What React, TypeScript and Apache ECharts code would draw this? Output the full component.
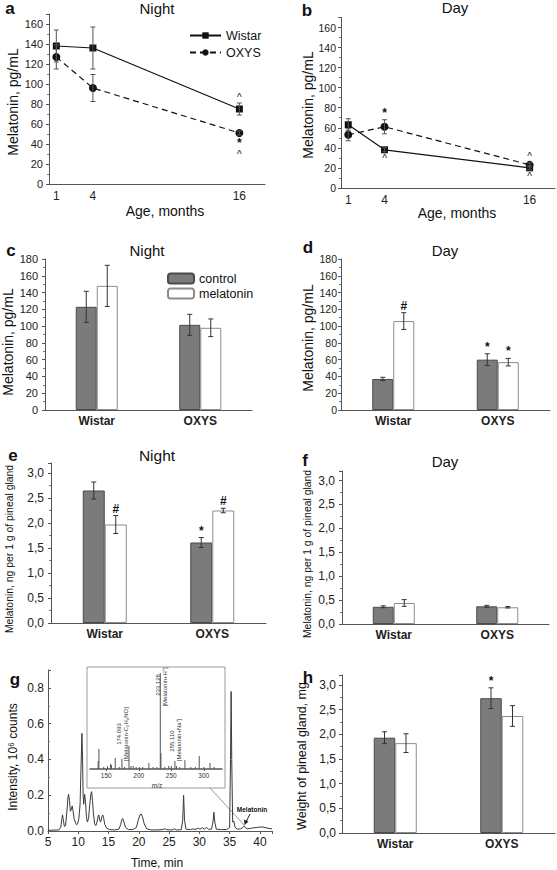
import React, { useEffect, useRef } from 'react';
import * as echarts from 'echarts';

const FONT = '"Liberation Sans", Arial, Helvetica, sans-serif';

// ---------- Panels a & b : melatonin vs age ----------
const ageMonths = [1, 4, 16];
const ageTickValues = [1, 4, 16];
const nightWistar = [138, 136, 75];
const nightWistarErr = [16, 21, 6];
const nightOxys = [127, 96, 51];
const nightOxysErr = [12, 13.5, 2];
const nightWistarAbove = ['', '', '^'];
const nightWistarBelow = ['', '', ''];
const nightOxysAbove = ['', '', ''];
const nightOxysBelow = ['', '', '*^'];

const dayWistar = [63, 38, 20];
const dayWistarErr = [6, 2, 2];
const dayOxys = [53, 61, 23];
const dayOxysErr = [6, 7, 2];
const dayWistarAbove = ['', '', ''];
const dayWistarBelow = ['', '^', '^'];
const dayOxysAbove = ['', '*', '^'];
const dayOxysBelow = ['', '', ''];

// ---------- Bar panels ----------
const strains = ['Wistar', 'OXYS'];
// c: night plasma melatonin, pg/mL
const cControl = [123, 101.5];
const cControlErr = [18.5, 12.5];
const cMelatonin = [148, 98];
const cMelatoninErr = [24.5, 10.5];
// d: day plasma melatonin, pg/mL
const dControl = [37, 60];
const dControlErr = [2, 7];
const dMelatonin = [106, 57];
const dMelatoninErr = [10, 4.5];
const dControlMarks = ['', '*'];
const dMelatoninMarks = ['#', '*'];
// e: night pineal melatonin, ng per 1 g
const eControl = [2.65, 1.61];
const eControlErr = [0.17, 0.1];
const eMelatonin = [1.97, 2.25];
const eMelatoninErr = [0.18, 0.045];
const eControlMarks = ['', '*'];
const eMelatoninMarks = ['#', '#'];
// f: day pineal melatonin, ng per 1 g
const fControl = [0.36, 0.37];
const fControlErr = [0.02, 0.02];
const fMelatonin = [0.44, 0.35];
const fMelatoninErr = [0.07, 0.015];
// h: weight of pineal gland, mg
const hControl = [1.93, 2.73];
const hControlErr = [0.12, 0.21];
const hMelatonin = [1.82, 2.37];
const hMelatoninErr = [0.19, 0.21];
const hControlMarks = ['', '*'];

// ---------- Panel g : chromatogram ----------
const chromTime = [
  5.0, 6.0, 6.8, 7.1, 7.3, 7.4, 7.5, 7.7, 7.9, 8.1, 8.3, 8.4, 8.55, 8.7, 8.85, 9.0, 9.15, 9.3, 9.5, 9.7,
  9.9, 10.1, 10.3, 10.45, 10.6, 10.7, 10.8, 10.9, 11.05, 11.2, 11.35, 11.5, 11.7, 11.9, 12.1, 12.2, 12.35, 12.5, 12.7, 12.9,
  13.1, 13.3, 13.4, 13.55, 13.7, 13.9, 14.05, 14.2, 14.4, 14.7, 15.2, 16.0, 16.7, 17.0, 17.2, 17.35, 17.5, 17.8, 18.3, 19.0,
  19.6, 19.9, 20.2, 20.4, 20.6, 20.9, 21.3, 22.0, 23.0, 24.0, 24.3, 24.6, 25.5, 25.9, 26.2, 27.0, 27.25, 27.4, 27.55, 27.8,
  28.5, 29.0, 29.3, 29.8, 30.1, 30.5, 30.8, 31.2, 31.5, 32.0, 32.25, 32.4, 32.55, 32.8, 33.5, 34.5, 35.0, 35.15, 35.25, 35.35,
  35.5, 35.7, 35.9, 36.3, 36.8, 37.2, 37.4, 37.6, 38.0, 38.5, 39.0, 39.5, 40.0, 40.5, 41.0, 41.5, 42.0,
];
const chromIntensity = [
  0.004, 0.005, 0.006, 0.02, 0.07, 0.09, 0.07, 0.025, 0.03, 0.1, 0.19, 0.205, 0.17, 0.11, 0.12, 0.14, 0.11, 0.07, 0.05, 0.035,
  0.04, 0.07, 0.15, 0.35, 0.546, 0.42, 0.2, 0.15, 0.205, 0.16, 0.08, 0.05, 0.07, 0.15, 0.21, 0.22, 0.17, 0.1, 0.04, 0.03,
  0.05, 0.085, 0.09, 0.06, 0.05, 0.08, 0.09, 0.07, 0.035, 0.015, 0.008, 0.006, 0.01, 0.035, 0.065, 0.07, 0.055, 0.02, 0.008, 0.008,
  0.02, 0.06, 0.09, 0.095, 0.08, 0.04, 0.012, 0.006, 0.006, 0.008, 0.013, 0.007, 0.006, 0.012, 0.006, 0.007, 0.06, 0.2, 0.06, 0.01,
  0.008, 0.012, 0.008, 0.016, 0.01, 0.018, 0.01, 0.02, 0.01, 0.01, 0.05, 0.105, 0.05, 0.01, 0.008, 0.008, 0.02, 0.4, 0.78, 0.4,
  0.05, 0.055, 0.02, 0.01, 0.012, 0.02, 0.027, 0.018, 0.012, 0.015, 0.018, 0.02, 0.022, 0.022, 0.018, 0.014, 0.012,
];
// inset: mass spectrum (relative intensity, %)
const msMz = [137.5, 138.7, 146, 152, 156.7, 158, 163.8, 170, 174.1, 178, 184.9, 188, 191.5, 196, 201, 206, 215.6, 222, 228, 233.1, 234.1, 240, 246, 250, 255.6, 258, 263, 271, 280, 287, 293, 300, 309.5, 316];
const msIntensity = [8, 20, 2, 3, 5, 4, 11, 2, 10, 2, 23, 3, 3, 2, 2, 2, 6, 2, 2, 96, 16, 2, 3, 3, 8, 3, 2, 9, 2, 2, 13, 2, 6, 2];
const msTickValues = [150, 200, 250, 300];

// ---------- helpers ----------
const AX = '#555';
const CTRL_STYLE = { color: '#7b7b7b', borderColor: '#4a4a4a', borderWidth: 1 };
const MEL_STYLE = { color: '#ffffff', borderColor: '#8c8c8c', borderWidth: 1 };

const grids = [
  { left: 49, top: 14, width: 216, height: 170 }, // a
  { left: 341, top: 17.5, width: 214, height: 170.4 }, // b
  { left: 45, top: 259, width: 207, height: 151 }, // c
  { left: 341, top: 259, width: 209, height: 151 }, // d
  { left: 51, top: 463, width: 215, height: 160 }, // e
  { left: 342, top: 471, width: 207, height: 153 }, // f
  { left: 48, top: 670, width: 224, height: 161 }, // g
  { left: 342, top: 675, width: 213, height: 158 }, // h
  { left: 90, top: 669, width: 132, height: 100 }, // inset
];

function yValueAxis(gi: number, max: number, interval: number, labelMax: number, fontSize: number, margin: number, comma: boolean, digits: number, inside = false) {
  return {
    type: 'value', gridIndex: gi, min: 0, max, interval,
    axisLine: { show: true, lineStyle: { color: AX, width: 1 } },
    axisTick: { show: true, inside, length: 3, lineStyle: { color: AX } },
    minorTick: { show: true, splitNumber: 2, length: 2, lineStyle: { color: '#777' } },
    splitLine: { show: false },
    axisLabel: {
      fontSize, color: '#222', fontFamily: FONT, margin,
      formatter: (v: number) => {
        if (v > labelMax + 1e-9) return '';
        const s = digits > 0 ? v.toFixed(digits) : String(Math.round(v));
        return comma ? s.replace('.', ',') : s;
      },
    },
  };
}

function catAxis(gi: number) {
  return {
    type: 'category', gridIndex: gi, data: strains,
    axisLine: { show: true, lineStyle: { color: AX, width: 1 } },
    axisTick: { show: false },
    splitLine: { show: false },
    axisLabel: { fontSize: 12, fontWeight: 'bold', color: '#222', fontFamily: FONT, margin: 5 },
  };
}

function ageAxis(gi: number) {
  return {
    type: 'value', gridIndex: gi, min: 0.4, max: 18.1,
    axisLine: { show: true, lineStyle: { color: AX, width: 1 } },
    axisTick: { show: false },
    splitLine: { show: false },
    axisLabel: { customValues: ageTickValues, fontSize: 12, color: '#222', fontFamily: FONT, margin: 6 },
  };
}

// one text element holding a stack of significance marks (* bold, ^ plain)
function markStack(marks: string, x: number, y: number, va: string) {
  const chars = marks.split('');
  const ordered = va === 'bottom' ? chars.slice().reverse() : chars;
  const text = ordered.map((ch) => (ch === '^' ? `{c|^}` : `{s|${ch}}`)).join('\n');
  return {
    type: 'text', x, y,
    style: {
      text, align: 'center', verticalAlign: va, fill: '#111',
      font: `bold 12px ${FONT}`,
      rich: {
        s: { font: `bold 12px ${FONT}`, lineHeight: 12, fill: '#111' },
        c: { font: `normal 10px ${FONT}`, lineHeight: 10, fill: '#111' },
      },
    },
  };
}

function pointErrSeries(gi: number, xs: number[], ys: number[], errs: number[], above: string[], below: string[]) {
  return {
    type: 'custom', xAxisIndex: gi, yAxisIndex: gi, z: 4, silent: true,
    data: xs.map((x, i) => [x, ys[i], errs[i]]),
    renderItem: (params: any, api: any) => {
      const x = api.value(0), v = api.value(1), e = api.value(2);
      const top = api.coord([x, v + e]);
      const bot = api.coord([x, v - e]);
      const px = top[0];
      const cap = 2.5;
      const st = { stroke: '#555', lineWidth: 1 };
      const children: any[] = [
        { type: 'line', shape: { x1: px, y1: top[1], x2: px, y2: bot[1] }, style: st },
        { type: 'line', shape: { x1: px - cap, y1: top[1], x2: px + cap, y2: top[1] }, style: st },
        { type: 'line', shape: { x1: px - cap, y1: bot[1], x2: px + cap, y2: bot[1] }, style: st },
      ];
      const up = above[params.dataIndex] || '';
      if (up) children.push(markStack(up, px, top[1] - 1, 'bottom'));
      const dn = below[params.dataIndex] || '';
      if (dn) children.push(markStack(dn, px, bot[1] + 2, 'top'));
      return { type: 'group', children };
    },
  };
}

function barErrSeries(gi: number, values: number[], errs: number[], marks: string[] | null, side: number, bw: number) {
  return {
    type: 'custom', xAxisIndex: gi, yAxisIndex: gi, z: 5, silent: true,
    data: values.map((v, i) => [i, v, errs[i]]),
    renderItem: (params: any, api: any) => {
      const i = api.value(0), v = api.value(1), e = api.value(2);
      const top = api.coord([i, v + e]);
      const bot = api.coord([i, v - e]);
      const px = top[0] + (side * bw) / 2;
      const cap = 2.5;
      const st = { stroke: '#333', lineWidth: 1 };
      const children: any[] = [
        { type: 'line', shape: { x1: px, y1: top[1], x2: px, y2: bot[1] }, style: st },
        { type: 'line', shape: { x1: px - cap, y1: top[1], x2: px + cap, y2: top[1] }, style: st },
        { type: 'line', shape: { x1: px - cap, y1: bot[1], x2: px + cap, y2: bot[1] }, style: st },
      ];
      const m = marks ? marks[params.dataIndex] : '';
      if (m) children.push(markStack(m, px, top[1] - 1, 'bottom'));
      return { type: 'group', children };
    },
  };
}

function barPair(gi: number, ctrl: number[], ctrlErr: number[], ctrlMarks: string[] | null, mel: number[], melErr: number[], melMarks: string[] | null, bw: number) {
  return [
    { type: 'bar', name: 'control', xAxisIndex: gi, yAxisIndex: gi, data: ctrl, barWidth: bw, barGap: '0%', itemStyle: CTRL_STYLE, silent: true },
    { type: 'bar', name: 'melatonin', xAxisIndex: gi, yAxisIndex: gi, data: mel, barWidth: bw, barGap: '0%', itemStyle: MEL_STYLE, silent: true },
    barErrSeries(gi, ctrl, ctrlErr, ctrlMarks, -1, bw),
    barErrSeries(gi, mel, melErr, melMarks, 1, bw),
  ];
}

function lineSeries(gi: number, name: string, ys: number[], symbol: string, dashed: boolean) {
  return {
    type: 'line', name, xAxisIndex: gi, yAxisIndex: gi, z: 3, silent: true,
    data: ageMonths.map((x, i) => [x, ys[i]]),
    symbol, symbolSize: symbol === 'rect' ? 7 : 8,
    lineStyle: { color: '#111', width: 1.2, type: dashed ? [6, 4] : 'solid' },
    itemStyle: { color: '#111' },
  };
}

function txt(text: string, x: number, y: number, size: number, opts: any = {}) {
  return {
    type: 'text', x, y, rotation: opts.rot ? Math.PI / 2 : 0, z: opts.z ?? 10,
    style: {
      text, align: 'center', verticalAlign: 'middle',
      font: `${opts.bold ? 'bold ' : ''}${size}px ${FONT}`, fill: opts.fill ?? '#111',
    },
  };
}

function buildOption() {
  const graphic: any[] = [
    // inset frame
    { type: 'rect', z: 1, shape: { x: 87, y: 667, width: 138, height: 121 }, style: { fill: '#fff', stroke: '#999', lineWidth: 1 } },
    { type: 'line', z: 1, shape: { x1: 210, y1: 788, x2: 245, y2: 826 }, style: { stroke: '#999', lineWidth: 1 } },
    { type: 'line', z: 10, shape: { x1: 250, y1: 814, x2: 246, y2: 822 }, style: { stroke: '#222', lineWidth: 1 } },
    { type: 'polygon', z: 10, shape: { points: [[244.5, 825], [244, 819.5], [248.5, 821.5]] }, style: { fill: '#222' } },
    txt('Melatonin', 252, 809, 6.5, { bold: true }),
    txt('m/z', 157, 785, 6.5, { fill: '#333' }),
    txt('233.128', 158, 685, 6, { rot: true, fill: '#333' }),
    txt('[Melatonin+H⁺]', 164.5, 687, 6, { rot: true, fill: '#333' }),
    txt('174.093', 118.5, 734, 6, { rot: true, fill: '#333' }),
    txt('[Melatonin-C₂H₄NO]', 125.5, 734, 6, { rot: true, fill: '#333' }),
    txt('255.110', 171.5, 741, 6, { rot: true, fill: '#333' }),
    txt('[Melatonin+Na⁺]', 178.5, 740, 6, { rot: true, fill: '#333' }),
    // panel letters & titles
    txt('a', 10, 8, 17, { bold: true }),
    txt('Night', 157, 8, 15),
    txt('b', 307, 10, 17, { bold: true }),
    txt('Day', 455, 7, 15),
    txt('Age, months', 165, 211, 14),
    txt('Age, months', 457, 213, 14),
    txt('c', 11, 250, 17, { bold: true }),
    txt('Night', 147, 250, 15),
    txt('d', 308, 247, 17, { bold: true }),
    txt('Day', 445, 250, 15),
    txt('e', 13, 455, 17, { bold: true }),
    txt('Night', 157, 455, 15.5),
    txt('f', 305, 460, 17, { bold: true }),
    txt('Day', 445, 461, 15),
    txt('g', 15, 679, 17, { bold: true }),
    txt('h', 308, 677, 17, { bold: true }),
    txt('Time, min', 157, 863, 12),
    // y-axis names
    txt('Melatonin, pg/mL', 13, 102, 14, { rot: true }),
    txt('Melatonin, pg/mL', 308, 105, 14, { rot: true }),
    txt('Melatonin, pg/mL', 8, 342, 14, { rot: true }),
    txt('Melatonin, pg/mL', 308, 338, 14, { rot: true }),
    txt('Melatonin, ng per 1 g of pineal gland', 9, 549, 10.4, { rot: true }),
    txt('Melatonin, ng per 1 g of pineal gland', 307, 554, 10.4, { rot: true }),
    txt('Intensity, 10⁶ counts', 13, 757, 12, { rot: true }),
    txt('Weight of pineal gland, mg', 302, 756, 12.5, { rot: true }),
  ];

  const xAxis: any[] = [
    ageAxis(0),
    ageAxis(1),
    catAxis(2),
    catAxis(3),
    catAxis(4),
    catAxis(5),
    {
      type: 'value', gridIndex: 6, min: 5, max: 42, interval: 5,
      axisLine: { show: true, lineStyle: { color: AX } },
      axisTick: { show: true, length: 3, lineStyle: { color: AX } },
      splitLine: { show: false },
      axisLabel: { fontSize: 12, color: '#222', fontFamily: FONT, margin: 5, formatter: (v: number) => (v > 40.5 ? '' : String(v)) },
    },
    catAxis(7),
    {
      type: 'value', gridIndex: 8, min: 125, max: 328, z: 3,
      axisLine: { show: true, lineStyle: { color: '#555', width: 1.5 } },
      axisTick: { show: true, length: 2, customValues: msTickValues, lineStyle: { color: '#555' } },
      splitLine: { show: false },
      axisLabel: { customValues: msTickValues, fontSize: 6.5, color: '#333', fontFamily: FONT, margin: 3 },
    },
  ];

  const yAxis: any[] = [
    yValueAxis(0, 170, 20, 160, 11, 6, false, 0),
    yValueAxis(1, 170, 20, 160, 10.5, 5, false, 0),
    yValueAxis(2, 180, 20, 180, 11, 7, false, 0),
    yValueAxis(3, 180, 20, 180, 10.5, 4, false, 0),
    yValueAxis(4, 3.2, 0.5, 3.0, 12, 7, true, 1),
    yValueAxis(5, 3.2, 0.5, 3.0, 12, 7, true, 1),
    yValueAxis(6, 0.9, 0.2, 0.8, 12, 4, false, 1, true),
    yValueAxis(7, 3.2, 0.5, 3.0, 12, 6, true, 1),
    { type: 'value', gridIndex: 8, min: 0, max: 100, show: false },
  ];

  const series: any[] = [
    lineSeries(0, 'Wistar', nightWistar, 'rect', false),
    lineSeries(0, 'OXYS', nightOxys, 'circle', true),
    pointErrSeries(0, ageMonths, nightWistar, nightWistarErr, nightWistarAbove, nightWistarBelow),
    pointErrSeries(0, ageMonths, nightOxys, nightOxysErr, nightOxysAbove, nightOxysBelow),
    lineSeries(1, 'Wistar', dayWistar, 'rect', false),
    lineSeries(1, 'OXYS', dayOxys, 'circle', true),
    pointErrSeries(1, ageMonths, dayWistar, dayWistarErr, dayWistarAbove, dayWistarBelow),
    pointErrSeries(1, ageMonths, dayOxys, dayOxysErr, dayOxysAbove, dayOxysBelow),
    ...barPair(2, cControl, cControlErr, null, cMelatonin, cMelatoninErr, null, 21),
    ...barPair(3, dControl, dControlErr, dControlMarks, dMelatonin, dMelatoninErr, dMelatoninMarks, 21),
    ...barPair(4, eControl, eControlErr, eControlMarks, eMelatonin, eMelatoninErr, eMelatoninMarks, 22),
    ...barPair(5, fControl, fControlErr, null, fMelatonin, fMelatoninErr, null, 21),
    {
      type: 'line', name: 'chromatogram', xAxisIndex: 6, yAxisIndex: 6, silent: true,
      data: chromTime.map((t, i) => [t, chromIntensity[i]]),
      showSymbol: false, symbol: 'none',
      lineStyle: { color: '#3a3a3a', width: 1 },
    },
    ...barPair(7, hControl, hControlErr, hControlMarks, hMelatonin, hMelatoninErr, null, 21.5),
    {
      type: 'custom', name: 'spectrum', xAxisIndex: 8, yAxisIndex: 8, z: 4, silent: true,
      data: msMz.map((m, i) => [m, msIntensity[i]]),
      renderItem: (params: any, api: any) => {
        const b = api.coord([api.value(0), 0]);
        const t = api.coord([api.value(0), api.value(1)]);
        return { type: 'line', shape: { x1: b[0], y1: b[1], x2: t[0], y2: t[1] }, style: { stroke: '#555', lineWidth: 1 } };
      },
    },
  ];

  return {
    animation: false,
    backgroundColor: '#ffffff',
    textStyle: { fontFamily: FONT },
    grid: grids.map((g) => ({ ...g, containLabel: false, outerBoundsMode: 'none' })),
    xAxis,
    yAxis,
    legend: [
      {
        left: 184, top: 24, orient: 'vertical', itemWidth: 31, itemHeight: 8, itemGap: 4, selectedMode: false,
        data: ['Wistar', 'OXYS'], textStyle: { fontSize: 12.5, fontFamily: FONT, color: '#111' },
      },
      {
        left: 162, top: 267, orient: 'vertical', itemWidth: 26, itemHeight: 10, itemGap: 2, selectedMode: false,
        data: ['control', 'melatonin'], textStyle: { fontSize: 12.5, fontFamily: FONT, color: '#111' },
      },
    ],
    graphic,
    series,
  };
}

export default function App() {
  const ref = useRef<HTMLDivElement>(null);
  useEffect(() => {
    if (!ref.current) return;
    const chart = echarts.init(ref.current, null, { renderer: 'svg' });
    chart.setOption(buildOption());
    return () => chart.dispose();
  }, []);
  return (
    <div
      ref={ref}
      style={{ position: 'absolute', left: 0, top: 0, width: 557, height: 870, background: '#fff' }}
    />
  );
}
